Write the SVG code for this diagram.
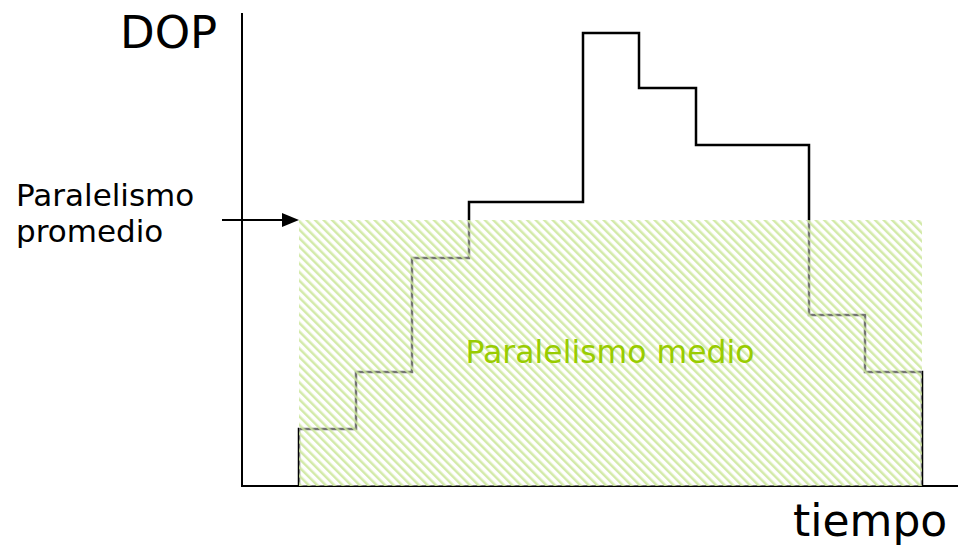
<svg xmlns="http://www.w3.org/2000/svg" width="959" height="549" viewBox="0 0 959 549">
<style>
.t{font-family:"DejaVu Sans",Verdana,sans-serif;fill:#000}
.ax{stroke:#000;stroke-width:2;fill:none}
.step{stroke:#000;stroke-width:2.5;fill:none;stroke-linejoin:miter}
</style>
<defs>
<pattern id="hatch" width="6" height="6" patternUnits="userSpaceOnUse" patternTransform="rotate(-45)">
<rect width="6" height="6" fill="#ffffff" fill-opacity="0.45"/>
<rect x="0" y="0" width="2.5" height="6" fill="#cbe69a" fill-opacity="0.85"/>
</pattern>
</defs>
<rect width="959" height="549" fill="#fff"/>
<g id="axes">
<line class="ax" x1="242" y1="13" x2="242" y2="486"/>
<line class="ax" x1="241" y1="486" x2="958" y2="486"/>
</g>
<g id="step-curve">
<path class="step" d="M299,486 V429 H356 V372 H412 V258 H469 V202 H583 V33 H639 V88 H696 V145 H809 V315 H865 V372 H922 V486"/>
</g>
<g id="average-area">
<rect x="299" y="220" width="623" height="266" fill="url(#hatch)"/>
<text class="t" x="610" y="363" font-size="31.5" text-anchor="middle" style="fill:#99cc00">Paralelismo medio</text>
</g>
<g id="connectors">
<line x1="222" y1="220" x2="283" y2="220" stroke="#000" stroke-width="2"/>
<path d="M282,213 L299,220 L282,227 Z" fill="#000"/>
</g>
<g id="label-dop"><text class="t" x="120" y="48" font-size="45">DOP</text></g>
<g id="label-promedio">
<text class="t" x="16" y="206" font-size="31">Paralelismo</text>
<text class="t" x="16" y="242" font-size="31">promedio</text>
</g>
<g id="label-tiempo"><text class="t" x="793" y="536" font-size="44">tiempo</text></g>
</svg>
